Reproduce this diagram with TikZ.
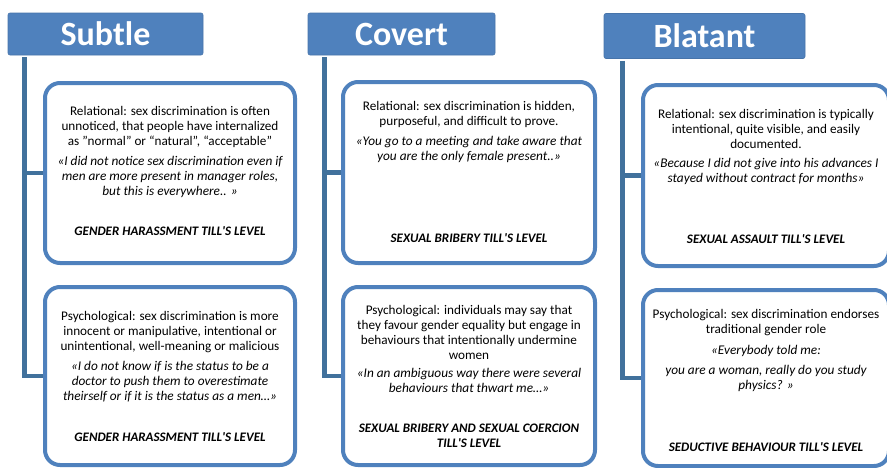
\documentclass[tikz,border=0pt]{standalone}
\usepackage{fontspec}
\setmainfont{Carlito}
\usetikzlibrary{calc}
\definecolor{hdr}{HTML}{4F81BD}
\definecolor{bord}{HTML}{4F81BD}
\definecolor{vline}{HTML}{41719C}
\newcommand\apo{\textquotesingle}
\begin{document}
\begin{tikzpicture}[x=1pt,y=-1pt,
  header/.style={fill=hdr, draw=hdr!90!black, line width=0.6pt, rounded corners=2pt, inner sep=0pt,
    text=white, font=\fontsize{34}{38}\selectfont\bfseries},
  card/.style={draw=bord, line width=4pt, rounded corners=15pt, fill=white, inner sep=0pt},
  conn/.style={draw=vline, line width=4.5pt},
  txt/.style={align=center, font=\fontsize{13.2}{15}\selectfont, inner sep=0pt},
  quo/.style={align=center, font=\fontsize{13.3}{15}\selectfont\itshape, inner sep=0pt},
  lvl/.style={align=center, font=\fontsize{13}{15}\selectfont\bfseries\itshape, inner sep=0pt}]
\useasboundingbox (0,0) rectangle (887,467);
\clip (0,0) rectangle (887,467);

% headers
\node[header, minimum width=195pt, minimum height=42pt] (hs) at (105.5,34) {Subtle};
\node[header, minimum width=187pt, minimum height=42pt] (hc) at (401.5,34) {Covert};
\node[header, minimum width=201pt, minimum height=45pt] (hb) at (704.5,36) {Blatant};

% cards
\node[card, minimum width=250pt, minimum height=180pt] (s1) at (170,173) {};
\node[card, minimum width=250pt, minimum height=178pt] (s2) at (170,376) {};
\node[card, minimum width=252pt, minimum height=181pt] (c1) at (469,172.5) {};
\node[card, minimum width=252pt, minimum height=178pt] (c2) at (469,376) {};
\node[card, minimum width=246pt, minimum height=181pt] (b1) at (766,175.5) {};
\node[card, minimum width=246pt, minimum height=176pt] (b2) at (766,378) {};

% connectors
\coordinate (sv) at ($(hs.south west)+(17,2)$);
\coordinate (cv) at ($(hc.south west)+(17,2)$);
\coordinate (bv) at ($(hb.south west)+(19,2)$);
\draw[conn] (sv) |- (s2.west);
\draw[conn] (sv |- s1.west) -- (s1.west);
\draw[conn] (cv) |- (c2.west);
\draw[conn] (cv |- c1.west) -- (c1.west);
\draw[conn] (bv) |- (b2.west);
\draw[conn] (bv |- b1.west) -- (b1.west);

% Subtle texts
\node[txt] (s1a) at (170,127) {Relational: sex discrimination is often\\unnoticed, that people have internalized\\as "normal" or “natural”, “acceptable"};
\node[quo] (s1b) at (170,177) {«I did not notice sex discrimination even if\\men are more present in manager roles,\\but this is everywhere.. »};
\node[lvl] (s1c) at (170,231) {GENDER HARASSMENT TILL\apo S LEVEL};

\node[txt] (s2a) at (170,332) {Psychological: sex discrimination is more\\innocent or manipulative, intentional or\\unintentional, well-meaning or malicious};
\node[quo] (s2b) at (170,382) {«I do not know if is the status to be a\\doctor to push them to overestimate\\theirself or if it is the status as a men…»};
\node[lvl] (s2c) at (170,437) {GENDER HARASSMENT TILL\apo S LEVEL};

% Covert texts
\node[txt] (c1a) at (469,114.5) {Relational: sex discrimination is hidden,\\purposeful, and difficult to prove.};
\node[quo] (c1b) at (469,149.5) {«You go to a meeting and take aware that\\you are the only female present..»};
\node[lvl] (c1c) at (469,238) {SEXUAL BRIBERY TILL\apo S LEVEL};

\node[txt] (c2a) at (469,332) {Psychological: individuals may say that\\they favour gender equality but engage in\\behaviours that intentionally undermine\\women};
\node[quo] (c2b) at (469,380.5) {«In an ambiguous way there were several\\behaviours that thwart me…»};
\node[lvl] (c2c) at (469,435.5) {SEXUAL BRIBERY AND SEXUAL COERCION\\TILL\apo S LEVEL};

% Blatant texts
\node[txt] (b1a) at (766,129) {Relational: sex discrimination is typically\\intentional, quite visible, and easily\\documented.};
\node[quo] (b1b) at (766,171) {«Because I did not give into his advances I\\stayed without contract for months»};
\node[lvl] (b1c) at (766,239) {SEXUAL ASSAULT TILL\apo S LEVEL};

\node[txt] (b2a) at (766,322.5) {Psychological: sex discrimination endorses\\traditional gender role};
\node[quo] (b2b) at (766,351) {«Everybody told me:};
\node[quo] (b2c) at (766,378.5) {you are a woman, really do you study\\physics? »};
\node[lvl] (b2d) at (766,447) {SEDUCTIVE BEHAVIOUR TILL\apo S LEVEL};
\end{tikzpicture}
\end{document}
